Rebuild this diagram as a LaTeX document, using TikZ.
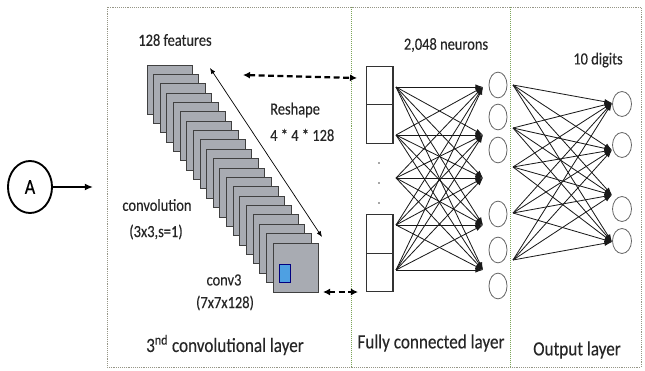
\documentclass[tikz,border=0pt]{standalone}
\usepackage{fontspec}
\setmainfont{Carlito}[FakeStretch=0.85, FakeBold=0.3]
\usetikzlibrary{arrows.meta,shapes.geometric}
\definecolor{mapgray}{RGB}{168,171,178}
\definecolor{mapblue}{RGB}{78,160,226}
\definecolor{framegray}{RGB}{150,150,135}
\definecolor{framegreen}{RGB}{125,165,90}
\tikzset{
  small/.style={font=\fontsize{14.5}{16}\selectfont, text=black!85},
  big/.style={font=\fontsize{17.2}{19}\selectfont, text=black!85},
  fmap/.style={draw=black!75, fill=mapgray, line width=0.8pt},
  cell/.style={draw=black!80, minimum width=23pt, minimum height=32.9pt, line width=0.9pt},
  neuron/.style={draw=black!60, ellipse, minimum width=15.4pt, minimum height=22pt, line width=0.7pt},
  net/.style={-{Latex[length=6.5pt,width=4.5pt]}, line width=0.7pt, black!90},
  diag/.style={{Latex[length=5pt,width=4pt]}-{Latex[length=5pt,width=4pt]}, line width=0.6pt},
  reshape/.style={{Latex[length=6pt,width=6pt]}-{Latex[length=6pt,width=6pt]}, dash pattern=on 5pt off 3pt, line width=1.9pt},
  frame/.style={draw=framegray, densely dotted, line width=0.6pt},
  divider/.style={draw=framegreen, densely dotted, line width=0.7pt}
}
\begin{document}
\begin{tikzpicture}[x=0.03cm, y=0.03cm]
    \tikzstyle{every node}+=[inner sep=0pt]
    \useasboundingbox (0,0) rectangle (645,-371);
    \draw [frame] (107,-7) rectangle (641,-367);
    \draw [divider] (351,-7) -- (351,-367);
    \draw [divider] (510,-7) -- (510,-367);
    \node [draw, ellipse, line width=1.6pt, minimum width=37.6pt, minimum height=44.4pt, font=\fontsize{18}{20}\selectfont] (A) at (30,-187) {A};
    \coordinate (Ain) at (93,-187);
    \draw [-{Latex[length=7pt,width=6pt]}, line width=1.4pt] (A) -- (Ain);
    \foreach \i in {0,...,19}
      \draw [fmap] ({147+6.63*\i},{-65-9.37*\i}) rectangle ++(45,-49);
    \draw [draw=blue!50!black, fill=mapblue, line width=0.6pt] (279,-264) rectangle (290,-282);
    \coordinate (rs1) at (210,-68);
    \coordinate (rs2) at (322,-237);
    \draw [diag] (rs1) -- (rs2);
    \node [cell] (in1) at (379.5,-85.5) {};
    \node [cell] (in2) at (379.5,-124) {};
    \node [cell] (in3) at (379.5,-234) {};
    \node [cell] (in4) at (379.5,-272.5) {};
    \foreach \y in {163,183,203}
      \fill [black!70] (379,-\y) circle (0.8pt);
    \coordinate (rt1) at (243,-75);
    \coordinate (rt2) at (357,-78);
    \draw [reshape] (rt1) -- (rt2);
    \coordinate (rb1) at (323,-292);
    \coordinate (rb2) at (358,-292);
    \draw [reshape] (rb1) -- (rb2);
    \foreach \y [count=\i] in {87,135,178,225,270} {
      \coordinate (fs\i) at (396,-\y);
      \coordinate (ft\i) at (483,-\y);
    }
    \foreach \i in {1,...,5}
      \foreach \j in {1,...,5}
        \draw [net] (fs\i) -- (ft\j);
    \foreach \y [count=\i] in {85,117,150,214,250,286}
      \node [neuron] (h\i) at (498,-\y) {};
    \foreach \y [count=\i] in {85,128,167,213,260}
      \coordinate (os\i) at (513,-\y);
    \foreach \y [count=\j] in {103,150,195,242}
      \coordinate (ot\j) at (612,-\y);
    \foreach \i in {1,...,5}
      \foreach \j in {1,...,4}
        \draw [net] (os\i) -- (ot\j);
    \foreach \y [count=\i] in {104,145,209,241}
      \node [neuron, minimum width=16.2pt, minimum height=21.3pt] (o\i) at (622,-\y) {};
    \node [small] (feat) at (175,-40) {128 features};
    \node [small, anchor=west] (resh) at (270,-110) {Reshape};
    \node [small, anchor=west] (dims) at (270,-135) {4 * 4 * 128};
    \node [small] (conv) at (157,-205) {convolution};
    \node [small] (kern) at (156,-232) {(3x3,s=1)};
    \node [small] (cname) at (224,-280) {conv3};
    \node [small] (csize) at (225,-303) {(7x7x128)};
    \node [small] (neur) at (446,-45) {2,048 neurons};
    \node [small] (digs) at (598,-60) {10 digits};
    \node [big] (lconv) at (225,-345) {3\textsuperscript{nd} convolutional layer};
    \node [big] (lfc) at (431,-343) {Fully connected layer};
    \node [big] (lout) at (577,-350) {Output layer};
\end{tikzpicture}
\end{document}
